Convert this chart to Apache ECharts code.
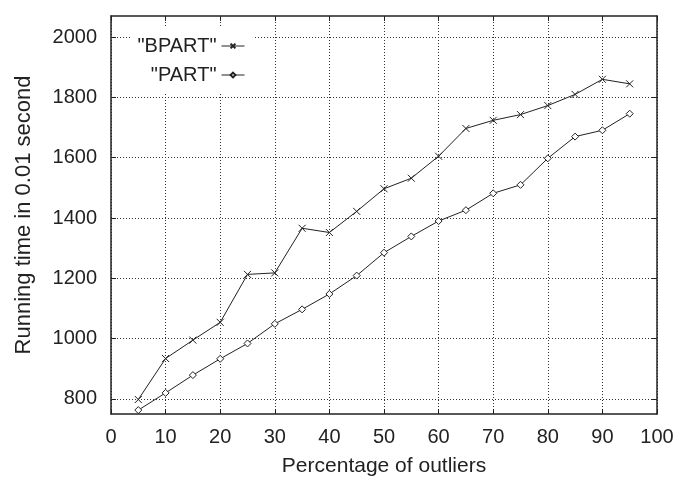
<!DOCTYPE html>
<html>
<head>
<meta charset="utf-8">
<script src="https://cdn.jsdelivr.net/npm/echarts@6/dist/echarts.min.js"></script>
<style>
  html, body { margin: 0; padding: 0; background: #fff; }
  #chart { width: 686px; height: 482px; }
</style>
</head>
<body>
<div id="chart"></div>
<script>
// data
const outliers = [5, 10, 15, 20, 25, 30, 35, 40, 45, 50, 55, 60, 65, 70, 75, 80, 85, 90, 95];
const bpart = [798, 934, 995, 1054, 1213, 1218, 1366, 1352, 1422, 1497, 1532, 1605, 1697, 1724, 1743, 1773, 1810, 1860, 1845];
const part = [763, 820, 879, 933, 984, 1049, 1097, 1148, 1209, 1285, 1339, 1390, 1426, 1482, 1510, 1598, 1670, 1691, 1746];
const yTicks = [800, 1000, 1200, 1400, 1600, 1800, 2000];

const ink = '#222';
const font = 'Liberation Sans';
const crossPath = 'path://M0,0L10,10M10,0L0,10';

const chart = echarts.init(document.getElementById('chart'));

const baseX = {
    type: 'value', min: 0, max: 100, interval: 10,
    axisLine: { show: true, onZero: false, lineStyle: { color: ink, width: 1.5 } },
    axisTick: { show: true, inside: true, length: 5, lineStyle: { color: ink } }
};
const baseY = {
    type: 'value', min: 750, max: 2070,
    axisLine: { show: true, onZero: false, lineStyle: { color: ink, width: 1.5 } },
    axisTick: { show: true, inside: true, length: 5, customValues: yTicks, lineStyle: { color: ink } }
};
const legendText = { fontSize: 20, color: ink, fontFamily: font };

const option = {
    animation: false,
    backgroundColor: '#fff',
    textStyle: { fontFamily: font },
    grid: { left: 111, top: 16, right: 29, bottom: 64 },
    legend: [
        {
            data: ['"BPART"'], right: 431, top: 26, align: 'right',
            itemWidth: 23, itemHeight: 6,
            lineStyle: { width: 1 },
            backgroundColor: '#fff', padding: [10, 10, 4, 6],
            textStyle: legendText
        },
        {
            data: ['"PART"'], right: 431, top: 60, align: 'right',
            itemWidth: 23, itemHeight: 6,
            lineStyle: { width: 1 },
            backgroundColor: '#fff', padding: [5, 10, 7, 19],
            textStyle: legendText
        }
    ],
    xAxis: [
        Object.assign({}, baseX, {
            position: 'bottom',
            name: 'Percentage of outliers', nameLocation: 'middle', nameGap: 42,
            nameTextStyle: { fontSize: 21, color: ink, fontFamily: font },
            axisLabel: { fontSize: 20, color: ink, margin: 13, fontFamily: font },
            splitLine: { show: true, lineStyle: { type: [1, 2], color: '#333', width: 1 } }
        }),
        Object.assign({}, baseX, {
            position: 'top',
            axisLabel: { show: false },
            splitLine: { show: false }
        })
    ],
    yAxis: [
        Object.assign({}, baseY, {
            position: 'left',
            name: 'Running time in 0.01 second', nameLocation: 'middle', nameGap: 76, nameRotate: 90,
            nameTextStyle: { fontSize: 22, color: ink, fontFamily: font },
            axisLabel: {
                fontSize: 20, color: ink, margin: 14, fontFamily: font,
                customValues: yTicks, formatter: v => String(v)
            },
            splitLine: { show: true, lineStyle: { type: [1, 2], color: '#333', width: 1 } }
        }),
        Object.assign({}, baseY, {
            position: 'right',
            axisLabel: { show: false },
            splitLine: { show: false }
        })
    ],
    series: [
        {
            name: '"BPART"', type: 'line',
            data: outliers.map((x, i) => [x, bpart[i]]),
            symbol: crossPath, symbolSize: 7, showAllSymbol: true,
            lineStyle: { color: ink, width: 1 },
            itemStyle: { color: 'none', borderColor: ink, borderWidth: 1 },
            z: 5
        },
        {
            name: '"PART"', type: 'line',
            data: outliers.map((x, i) => [x, part[i]]),
            symbol: 'diamond', symbolSize: 7, showAllSymbol: true,
            lineStyle: { color: ink, width: 1 },
            itemStyle: { color: '#fff', borderColor: ink, borderWidth: 1 },
            z: 5
        }
    ]
};

chart.setOption(option);
</script>
</body>
</html>
